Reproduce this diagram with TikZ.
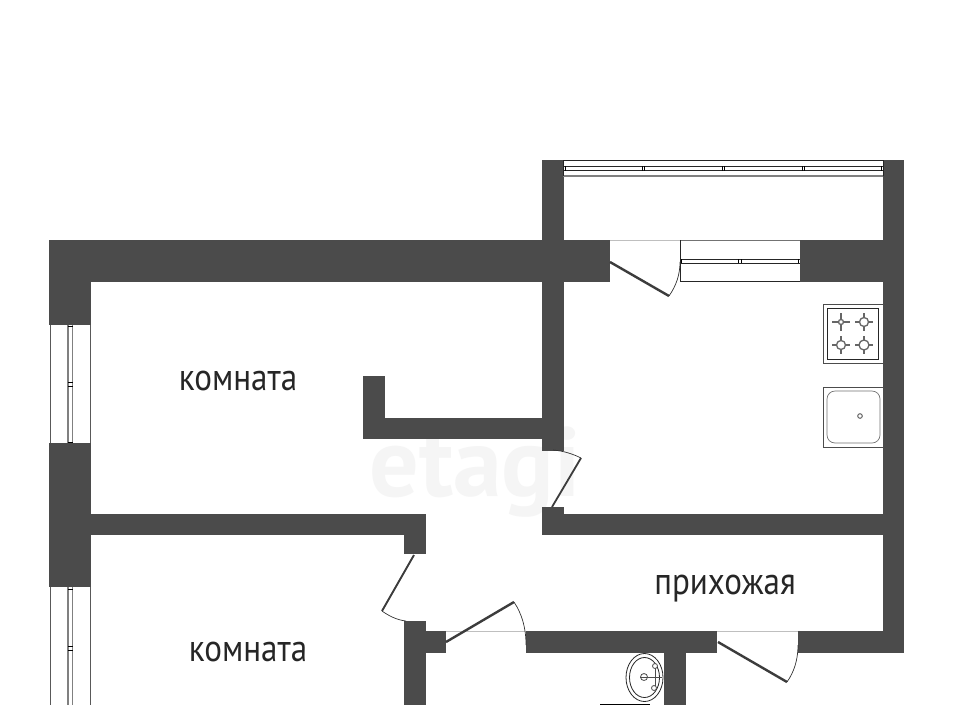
\documentclass[tikz,border=0pt]{standalone}
\usepackage{fontspec}
\setmainfont{PT Sans}
\definecolor{wallc}{HTML}{4B4B4B}
\tikzset{
  wall/.style={fill=wallc,draw=none},
  leaf/.style={draw=wallc!80!black,line width=2.4pt},
  swing/.style={draw=black!80,line width=0.7pt},
  thin/.style={draw=black!85,line width=0.8pt},
  pane/.style={draw=black!50,line width=1.2pt},
  tick/.style={draw=black,line width=0.8pt},
  fix/.style={draw=black!70,line width=0.8pt},
  burner/.style={draw=black!60,line width=1.3pt},
  lbl/.style={font=\fontsize{38}{38}\selectfont,text=black!85,inner sep=0pt,xscale=0.87},
}
\newcommand{\burnerat}[3]{%
  \draw[burner] (#1-9,#2)--(#1+9,#2) (#1,#2-9)--(#1,#2+9);
  \filldraw[burner,fill=white] (#1,#2) circle (#3);
}
\begin{document}
\begin{tikzpicture}[x=1pt,y=-1pt]
\useasboundingbox (0,0) rectangle (953,705);
\fill[white] (0,0) rectangle (953,705);
% watermark
\node[font=\bfseries\fontsize{98}{98}\selectfont,text=black!4,inner sep=0pt] (mark) at (475,472) {etagi};
% walls
\fill[wall] (49,240) rectangle (610,282);
\fill[wall] (49,240) rectangle (91,325);
\fill[wall] (49,443) rectangle (91,587);
\fill[wall] (542,160) rectangle (564,451);
\fill[wall] (883,160) rectangle (904,653);
\fill[wall] (800,240) rectangle (904,282);
\fill[wall] (363,376) rectangle (385,439);
\fill[wall] (363,418) rectangle (564,439);
\fill[wall] (542,507) rectangle (564,535);
\fill[wall] (542,514) rectangle (904,535);
\fill[wall] (91,514) rectangle (426,535);
\fill[wall] (404,514) rectangle (426,554);
\fill[wall] (404,621) rectangle (426,705);
\fill[wall] (404,631) rectangle (446,653);
\fill[wall] (526,631) rectangle (717,653);
\fill[wall] (664,631) rectangle (686,705);
\fill[wall] (798,631) rectangle (904,653);
% balcony window
\draw[thin] (563,160.5)--(883,160.5);
\draw[thin] (563,166)--(883,166) (563,170.5)--(883,170.5);
\draw[pane] (563,176)--(883,176);
\draw[thin] (563,160)--(563,176) (883,160)--(883,176);
\foreach \p in {642,644.5,722,724.5,802,804.5,565,881}
  \draw[tick,line width=.5pt] (\p,166)--(\p,170.5);
% kitchen window
\draw[draw=black!55,line width=1pt] (680,240.5)--(800,240.5);
\draw[thin] (680,259)--(800,259) (680,263)--(800,263) (680,281)--(800,281);
\draw[thin,line width=.5pt] (680,240)--(680,281);
\foreach \p in {738,741,681.5,798.5}
  \draw[tick,line width=.5pt] (\p,259)--(\p,263);
% kitchen door
\draw[draw=black!25,line width=.5pt] (610,240.5)--(680,240.5);
\draw[leaf] (610,262)--(669,296);
\draw[swing] (669,296) .. controls (676,286) and (680,275) .. (680,262);
% hall/kitchen door
\draw[leaf,line width=1.8pt] (552,507)--(581,458);
\draw[swing] (581,458) .. controls (573,454) and (564,451) .. (553,450);
% room door
\draw[leaf,line width=1.9pt] (414,555)--(382,611);
\draw[swing] (382,611) .. controls (389,616) and (397,620) .. (406,621);
% lower room door
\draw[draw=black!25,line width=.5pt] (446,631)--(526,631);
\draw[leaf] (446,642)--(514,602);
\draw[swing] (514,602) .. controls (522,614) and (526,628) .. (526,645);
% entrance door
\draw[draw=black!25,line width=.5pt] (717,631)--(798,631);
\draw[leaf] (718,642)--(787,682);
\draw[swing] (787,682) .. controls (794,672) and (798,660) .. (798,645);
% left windows
\foreach \a/\b in {325/443,587/705}{
  \draw[draw=black!65,line width=1pt] (50,\a)--(50,\b) (90,\a)--(90,\b);
  \draw[pane] (68,\a)--(68,\b) (72.5,\a)--(72.5,\b);
}
\foreach \p in {326,382,386,442,589,646,650}
  \draw[tick,line width=.7pt] (68,\p)--(72.5,\p);
% stove
\draw[fix] (823.5,304.5) rectangle (883,363);
\draw[thin,line width=1pt] (827.5,308.5) rectangle (878,359);
\burnerat{841}{322}{2.5}
\burnerat{864}{322}{4.5}
\burnerat{841}{345}{4.5}
\burnerat{864}{345}{5}
% sink
\draw[fix] (823.5,387.5) rectangle (883,447);
\draw[draw=black!55,line width=.7pt,rounded corners=8pt] (827,391) rectangle (880,443);
\filldraw[draw=black!60,fill=white,line width=1pt] (860,416) circle (2.3);
% washbasin
\draw[thin] (644.5,677.5) ellipse (18.5 and 24);
\draw[thin] (644.5,677.5) ellipse (15 and 20);
\draw[fix] (640,677)--(662,677) (655,665)--(655,688);
\draw[fix] (644,677) circle (3.5);
\draw[fix,fill=white] (655,666) circle (2.5) (654,688) circle (2.5);
% bottom fixture edge
\draw[draw=black,line width=1pt] (600,704.5)--(650,704.5);
% labels
\node[lbl] (room1) at (238,381) {комната};
\node[lbl] (room2) at (248,652) {комната};
\node[lbl] (hall) at (725,589) {прихожая};
\end{tikzpicture}
\end{document}
